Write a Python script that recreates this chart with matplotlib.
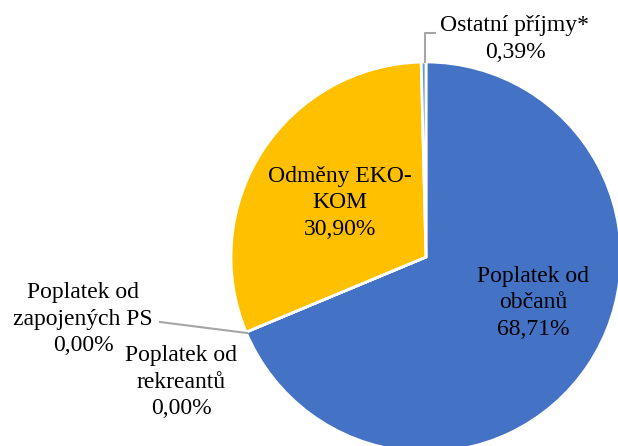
import matplotlib.pyplot as plt

# data
labels = ["Poplatek od\nobčanů", "Poplatek od\nrekreantů", "Poplatek od\nzapojených PS",
          "Odměny EKO-\nKOM", "Ostatní příjmy*"]
shares = [68.71, 0.00, 0.00, 30.90, 0.39]
colors = ["#4472C4", "#ED7D31", "#A5A5A5", "#FFC000", "#5B9BD5"]

W, H = 618, 446
plt.rcParams["font.family"] = ["Liberation Serif", "DejaVu Serif"]

fig = plt.figure(figsize=(W / 100, H / 100), dpi=100)
ax = fig.add_axes([0, 0, 1, 1])


def yy(y_img):
    # image row -> data y
    return H - y_img


cx, cy, r = 426, yy(257), 195
ax.pie(shares, colors=colors, startangle=90, counterclock=False,
       center=(cx, cy), radius=r, frame=True,
       wedgeprops=dict(edgecolor="white", linewidth=2))
ax.set_xlim(0, W)
ax.set_ylim(0, H)
ax.set_aspect("equal")
ax.axis("off")


def fmt(v):
    return ("%.2f%%" % v).replace(".", ",")


fs = 17
kw = dict(ha="center", va="center", fontsize=fs, color="#000000", linespacing=1.35)
ax.text(533, yy(303), labels[0] + "\n" + fmt(shares[0]), **kw)
ax.text(181, yy(382), labels[1] + "\n" + fmt(shares[1]), **kw)
ax.text(83, yy(319), labels[2] + "\n" + fmt(shares[2]), **kw)
ax.text(340, yy(203), labels[3] + "\n" + fmt(shares[3]), **kw)
ax.text(515, yy(39), labels[4] + "\n" + fmt(shares[4]), **kw)

# leader lines
ax.plot([160, 247], [yy(322), yy(333)], color="#A6A6A6", lw=1.5)
ax.plot([425, 425, 435], [yy(62), yy(33), yy(33)], color="#A6A6A6", lw=1.5)

fig.savefig("out.png", dpi=100)
